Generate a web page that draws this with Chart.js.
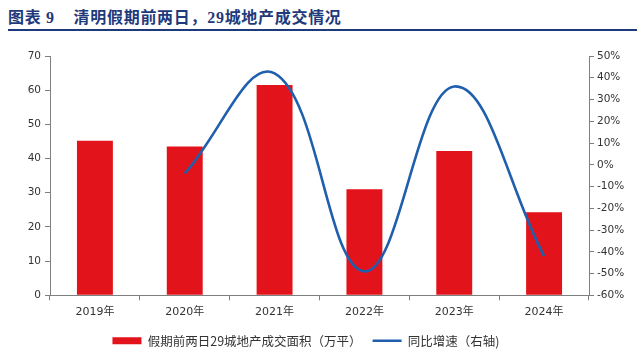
<!DOCTYPE html>
<html><head><meta charset="utf-8">
<script src="https://cdn.jsdelivr.net/npm/chart.js@4"></script>
<style>
html,body{margin:0;padding:0;background:#fff;}
#wrap{position:relative;width:640px;height:357px;overflow:hidden;}
#title{position:absolute;left:8px;top:4px;width:629px;height:25px;border-bottom:2px solid #1F3A7A;font-family:"Liberation Serif","Noto Sans CJK SC";font-weight:bold;font-size:16px;line-height:24px;color:#1F3A7A;white-space:nowrap;letter-spacing:0.7px;}
#title .cjk{font-family:"Noto Sans CJK SC";}
canvas{position:absolute;left:0;top:0;}
</style></head><body>
<div id="wrap">
<div id="title"><span class="cjk">图表</span> 9&nbsp;&nbsp;&nbsp;&nbsp;<span class="cjk">清明假期前两日，</span>29<span class="cjk">城地产成交情况</span></div>
<canvas id="c" width="640" height="357"></canvas>
</div>
<script>
const categories = ['2019年','2020年','2021年','2022年','2023年','2024年'];
const areaValues = [45.2, 43.5, 61.5, 31.0, 42.2, 24.3];
const yoyValues = [null, -4, 42, -49, 36, -42];
const leftTicks = [0,10,20,30,40,50,60,70];
const rightTicks = [-60,-50,-40,-30,-20,-10,0,10,20,30,40,50];
const barLabel = '假期前两日29城地产成交面积（万平）';
const lineLabel = '同比增速（右轴)';

const tickFont = {family:'"DejaVu Sans", Verdana, sans-serif', size:10.5};
const axisColor = '#7f7f7f';
const textColor = '#333333';

const chart = new Chart(document.getElementById('c'), {
  data: {
    labels: categories,
    datasets: [
      {type:'line', label: lineLabel, data: yoyValues, yAxisID:'y1', borderColor:'#1F5FAD', backgroundColor:'#1F5FAD', borderWidth:2.6, pointRadius:0, tension:0.4, fill:false, order:0},
      {type:'bar', label: barLabel, data: areaValues, yAxisID:'y', backgroundColor:'#E3131B', barPercentage:0.4, categoryPercentage:1, order:1}
    ]
  },
  options: {
    responsive:false, animation:false,
    layout:{padding:{top:56,left:0,right:0,bottom:0}},
    plugins:{
      tooltip:{enabled:false},
      legend:{
        position:'bottom', reverse:true,
        labels:{
          usePointStyle:true, pointStyleWidth:29, boxHeight:7, padding:11, color:textColor,
          font:{family:'"Noto Sans CJK SC"', size:12.5},
          generateLabels(chart){
            const items = Chart.defaults.plugins.legend.labels.generateLabels(chart);
            items.forEach(it=>{
              const ds = chart.data.datasets[it.datasetIndex];
              if (ds.type==='line'){ it.pointStyle='line'; it.lineWidth=2.5; it.strokeStyle='#1F5FAD'; }
              else { it.pointStyle='rect'; it.lineWidth=0; it.strokeStyle='#E3131B'; }
            });
            return items;
          }
        }
      }
    },
    scales:{
      x:{
        grid:{display:true, drawOnChartArea:false, offset:true, tickLength:5, color:axisColor},
        border:{color:axisColor},
        ticks:{color:textColor, font:{family:'"DejaVu Sans", "Noto Sans CJK SC"', size:11}, padding:5}
      },
      y:{
        position:'left', min:0, max:70,
        afterBuildTicks(s){ s.ticks = leftTicks.map(v=>({value:v})); },
        afterFit(s){ s.width = 50; },
        grid:{drawOnChartArea:false, tickLength:5, color:axisColor},
        border:{color:axisColor},
        ticks:{color:textColor, font:tickFont, padding:4}
      },
      y1:{
        position:'right', min:-60, max:50,
        afterBuildTicks(s){ s.ticks = rightTicks.map(v=>({value:v})); },
        afterFit(s){ s.width = 51; },
        grid:{drawOnChartArea:false, tickLength:5, color:axisColor},
        border:{color:axisColor},
        ticks:{color:textColor, font:tickFont, padding:3, callback:v=>v+'%'}
      }
    }
  }
});
const lg = chart.legend;
const origDraw = lg.draw;
lg.draw = function(){ const ctx = this.ctx; ctx.save(); ctx.translate(-14,0); origDraw.apply(this, arguments); ctx.restore(); };
chart.draw();
</script>
</body></html>
